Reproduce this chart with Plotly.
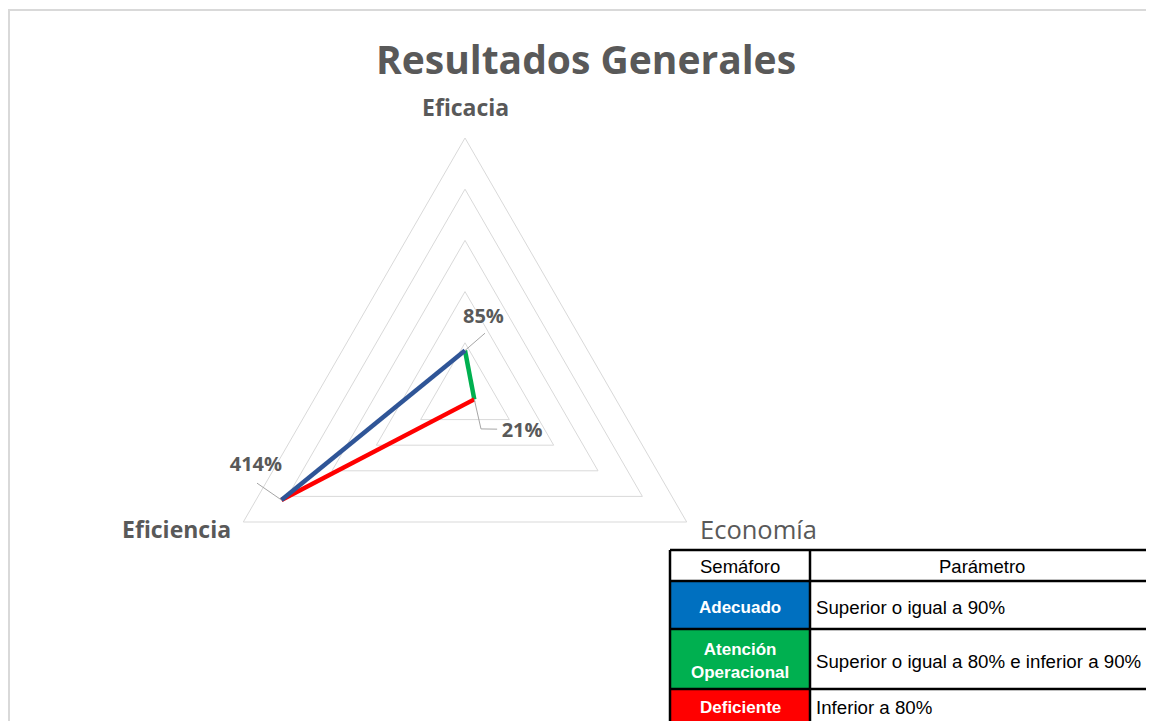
import plotly.graph_objects as go

# data
categories = ["Eficacia", "Economía", "Eficiencia"]
values = [85, 21, 414]          # percent
segment_colors = ["#00B050", "#FF0000", "#2F5597"]  # segment from category k to k+1

# where each value label sits, in (r, degrees clockwise from top) on the overlay
label_pos = [(152, 13.7), (134, 123.7), (432, 251)]
leader_pos = [[(125, 18.2)], [(75, 155.4), (93, 137.6)], [(442, 246.8)]]

table_header = ["Semáforo", "Parámetro"]
table_levels = ["Adecuado", "Atención<br>Operacional", "Deficiente"]
table_params = [
    "Superior o igual a 90%",
    "Superior o igual a 80% e inferior a 90%",
    "Inferior a 80%",
]
table_colors = ["#0070C0", "#00B050", "#FF0000"]

W, H = 1154, 721
OFF = 8  # page margin around the plot div


def px(x):
    return (x - OFF) / W


def py(y):
    return 1 - (y - OFF) / H


# polar area: centre (465, 394), radius 256 px
cx, cy, R = 465, 394, 256
dom_x = [px(cx - R), px(cx + R)]
dom_y = [py(cy + R), py(cy - R)]

GRAY = "#595959"
FONT = "Open Sans, sans-serif"
fig = go.Figure()

n = len(categories)
for k in range(n):
    j = (k + 1) % n
    fig.add_trace(go.Scatterpolar(
        r=[values[k], values[j]],
        theta=[categories[k], categories[j]],
        mode="lines",
        line=dict(color=segment_colors[k], width=4.5),
        showlegend=False,
        hoverinfo="skip",
        subplot="polar",
    ))

# leader lines + value labels on an invisible numeric overlay
angles = [0, 120, 240]
for k in range(n):
    pts = [(values[k], angles[k])] + leader_pos[k]
    fig.add_trace(go.Scatterpolar(
        r=[p[0] for p in pts],
        theta=[p[1] for p in pts],
        mode="lines",
        line=dict(color="#A6A6A6", width=1),
        showlegend=False,
        hoverinfo="skip",
        subplot="polar2",
    ))
fig.add_trace(go.Scatterpolar(
    r=[p[0] for p in label_pos],
    theta=[p[1] for p in label_pos],
    mode="text",
    text=[f"{v}%" for v in values],
    textfont=dict(family=FONT, size=20, color=GRAY, weight="bold"),
    showlegend=False,
    hoverinfo="skip",
    subplot="polar2",
))

fig.update_layout(
    width=W,
    height=H,
    margin=dict(l=0, r=0, t=0, b=0),
    paper_bgcolor="white",
    title=dict(
        text="<b>Resultados Generales</b>",
        x=px(586), y=py(60), xanchor="center", yanchor="middle",
        font=dict(family=FONT, size=39, color=GRAY),
    ),
    polar=dict(
        domain=dict(x=dom_x, y=dom_y),
        gridshape="linear",
        bgcolor="white",
        radialaxis=dict(range=[0, 500], dtick=100, showticklabels=False, ticks="",
                        showline=False, gridcolor="#D9D9D9", gridwidth=1),
        angularaxis=dict(rotation=90, direction="clockwise", showticklabels=False,
                         ticks="", showgrid=False, linecolor="#D9D9D9", linewidth=1),
    ),
    polar2=dict(
        domain=dict(x=dom_x, y=dom_y),
        bgcolor="rgba(0,0,0,0)",
        radialaxis=dict(range=[0, 500], visible=False),
        angularaxis=dict(type="linear", thetaunit="degrees", rotation=90,
                         direction="clockwise", visible=False),
    ),
)

# axis names
axis_label_xy = [(465, 107, "bold", 23), (759, 529, "normal", 25.5), (176, 529, "bold", 23)]
for name, (x, y, wt, sz) in zip(categories, axis_label_xy):
    fig.add_annotation(
        x=px(x), y=py(y), xref="paper", yref="paper", showarrow=False,
        text=name, xanchor="center", yanchor="middle",
        font=dict(family=FONT, size=sz, color=GRAY, weight=wt),
    )

# outer chart frame
fig.add_shape(type="rect", xref="paper", yref="paper",
              x0=px(OFF + 1), y0=py(740), x1=px(1170), y1=py(10),
              line=dict(color="#D9D9D9", width=2), fillcolor="rgba(0,0,0,0)", layer="below")

# semaforo table
col_x = [670, 810, 1170]
row_y = [550, 581, 629, 689, 740]
narrow = "Liberation Sans Narrow, Arial Narrow, Liberation Sans, sans-serif"
for i in range(len(table_levels)):
    fig.add_shape(type="rect", xref="paper", yref="paper",
                  x0=px(col_x[0]), x1=px(col_x[1]), y0=py(row_y[i + 2]), y1=py(row_y[i + 1]),
                  fillcolor=table_colors[i], line=dict(width=0), layer="below")
for y in row_y:
    fig.add_shape(type="line", xref="paper", yref="paper",
                  x0=px(col_x[0]), x1=px(col_x[2]), y0=py(y), y1=py(y),
                  line=dict(color="black", width=2.5))
for x in col_x:
    fig.add_shape(type="line", xref="paper", yref="paper",
                  x0=px(x), x1=px(x), y0=py(row_y[0]), y1=py(row_y[-1]),
                  line=dict(color="black", width=2.5))

head_y = py((row_y[0] + row_y[1]) / 2 + 1)
fig.add_annotation(x=px((col_x[0] + col_x[1]) / 2), y=head_y, xanchor="center", yanchor="middle",
                   xref="paper", yref="paper", showarrow=False, text=table_header[0],
                   font=dict(family=narrow, size=18.5, color="black"))
fig.add_annotation(x=px((col_x[1] + 1154) / 2), y=head_y, xanchor="center", yanchor="middle",
                   xref="paper", yref="paper", showarrow=False, text=table_header[1],
                   font=dict(family=narrow, size=18.5, color="black"))
bottoms = [629, 689, 721]
for i in range(len(table_levels)):
    ymid = (row_y[i + 1] + bottoms[i]) / 2 + 2
    fig.add_annotation(x=px((col_x[0] + col_x[1]) / 2), y=py(ymid), xanchor="center", yanchor="middle",
                       xref="paper", yref="paper", showarrow=False, text=table_levels[i],
                       font=dict(family=narrow, size=17, color="white", weight="bold"),
                       **({"height": 56} if "<br>" in table_levels[i] else {}))
    fig.add_annotation(x=px(col_x[1] + 4), y=py(ymid), xanchor="left", yanchor="middle",
                       xref="paper", yref="paper", showarrow=False, text=table_params[i],
                       font=dict(family=narrow, size=18.7, color="black"))

fig.write_html("out.html")
